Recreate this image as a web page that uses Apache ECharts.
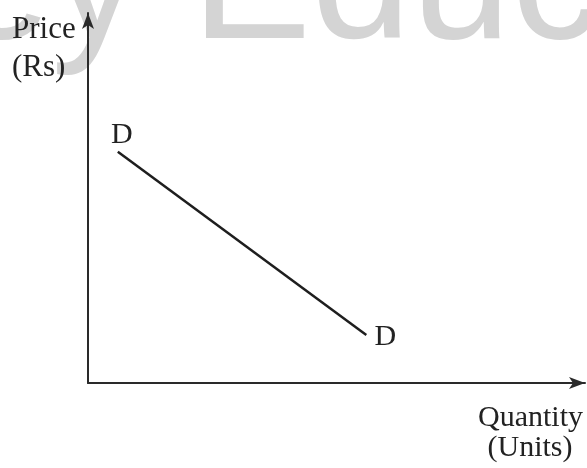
<!DOCTYPE html>
<html>
<head>
<meta charset="utf-8">
<script src="https://cdn.jsdelivr.net/npm/echarts@6/dist/echarts.min.js"></script>
<style>
  html, body { margin: 0; padding: 0; background: #fff; }
  #chart { width: 587px; height: 468px; }
</style>
</head>
<body>
<div id="chart"></div>
<script>
// demand curve D-D: quantity vs price (arbitrary units, 0..10 on both axes)
const quantity = [0.6, 5.6];
const price = [6.25, 1.3];
const pointLabels = ["D", "D"];

const serif = "'Liberation Serif', 'Times New Roman', serif";

const chart = echarts.init(document.getElementById("chart"));

const option = {
  animation: false,
  backgroundColor: "#fff",
  grid: { left: 88, right: 2, top: 13, bottom: 85 },
  xAxis: {
    type: "value",
    min: 0,
    max: 10,
    axisLine: {
      onZero: false,
      symbol: ["none", "arrow"],
      symbolSize: [9, 16],
      lineStyle: { color: "#2a2a2a", width: 2 }
    },
    axisTick: { show: false },
    axisLabel: { show: false },
    splitLine: { show: false }
  },
  yAxis: {
    type: "value",
    min: 0,
    max: 10,
    axisLine: {
      show: true,
      onZero: false,
      symbol: ["none", "arrow"],
      symbolSize: [9, 16],
      lineStyle: { color: "#2a2a2a", width: 2 }
    },
    axisTick: { show: false },
    axisLabel: { show: false },
    splitLine: { show: false }
  },
  graphic: [
    {
      // faint watermark, cut off at the top edge
      type: "text",
      z: -10,
      left: -169,
      top: -102,
      silent: true,
      style: {
        text: "Key Education",
        fill: "#d4d4d4",
        font: "180px 'Liberation Sans', Arial, sans-serif"
      }
    },
    {
      type: "text", x: 12, y: 30,
      style: { text: "Price", fill: "#222", font: "31px " + serif, verticalAlign: "middle" }
    },
    {
      type: "text", x: 12, y: 68,
      style: { text: "(Rs)", fill: "#222", font: "31px " + serif, verticalAlign: "middle" }
    },
    {
      type: "text", x: 583, y: 418,
      style: { text: "Quantity", fill: "#222", font: "30px " + serif, align: "right", verticalAlign: "middle" }
    },
    {
      type: "text", x: 530, y: 448,
      style: { text: "(Units)", fill: "#222", font: "30px " + serif, align: "center", verticalAlign: "middle" }
    }
  ],
  series: [
    {
      type: "line",
      symbol: "circle",
      symbolSize: 1,
      showSymbol: true,
      itemStyle: { color: "rgba(0,0,0,0)" },
      lineStyle: { color: "#1e1e1e", width: 2.5 },
      data: quantity.map((q, i) => ({
        value: [q, price[i]],
        label: {
          show: true,
          formatter: pointLabels[i],
          position: "inside",
          offset: i === 0 ? [4, -17] : [19, 2],
          fontFamily: serif,
          fontSize: 30,
          color: "#222"
        }
      }))
    }
  ]
};

chart.setOption(option);
</script>
</body>
</html>
